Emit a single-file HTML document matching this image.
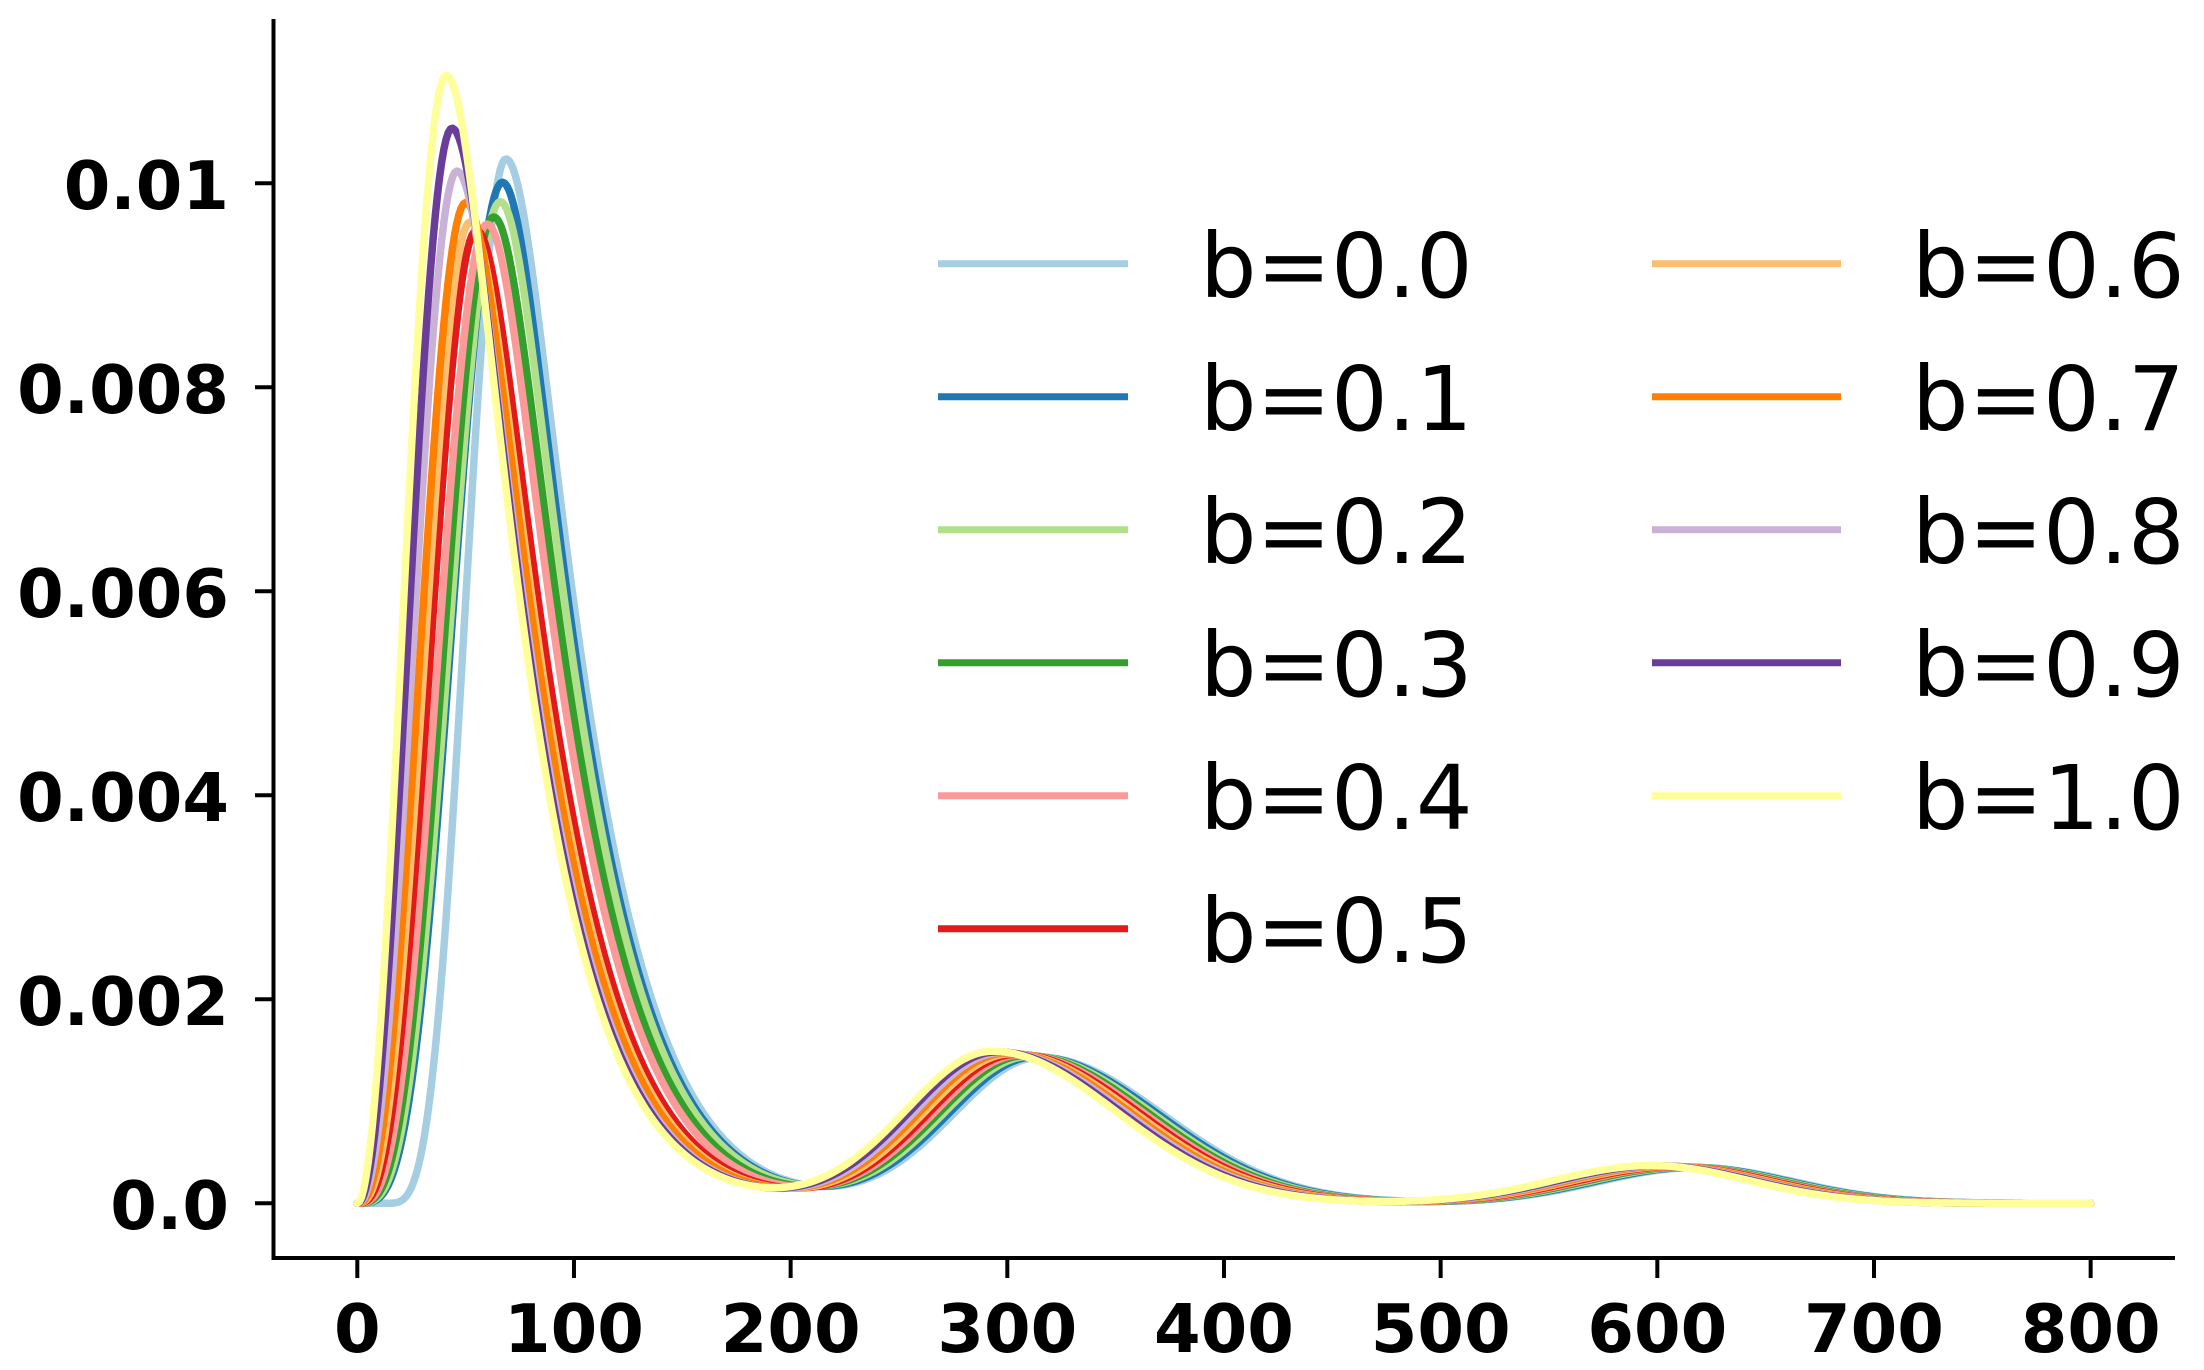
<!DOCTYPE html>
<html><head><meta charset="utf-8">
<style>
html,body{margin:0;padding:0;background:#fff;}
svg{display:block;}
.yt{font-family:"DejaVu Sans","Liberation Sans",sans-serif;font-weight:bold;font-size:67px;text-anchor:end;}
.xt{font-family:"DejaVu Sans","Liberation Sans",sans-serif;font-weight:bold;font-size:67px;text-anchor:middle;}
.lg{font-family:"DejaVu Sans","Liberation Sans",sans-serif;font-size:89px;}
</style></head>
<body>
<svg id="s" width="2204" height="1370" viewBox="0 0 2204 1370" xmlns="http://www.w3.org/2000/svg">
<g id="curves" fill="none" stroke-width="7.5" stroke-linejoin="round" stroke-linecap="round"></g>
<g stroke="#000" stroke-width="4" fill="none">
<line x1="273.5" y1="19" x2="273.5" y2="1260"/>
<line x1="271.5" y1="1258" x2="2175" y2="1258"/>
<line x1="255" y1="1203.3" x2="273" y2="1203.3"/>
<line x1="255" y1="999.3" x2="273" y2="999.3"/>
<line x1="255" y1="795.3" x2="273" y2="795.3"/>
<line x1="255" y1="591.3" x2="273" y2="591.3"/>
<line x1="255" y1="387.3" x2="273" y2="387.3"/>
<line x1="255" y1="183.3" x2="273" y2="183.3"/>
</g>
<g id="xticks" stroke="#000" stroke-width="4"></g>
<g>
<text class="yt" x="229" y="1229">0.0</text>
<text class="yt" x="229" y="1025">0.002</text>
<text class="yt" x="229" y="821">0.004</text>
<text class="yt" x="229" y="617">0.006</text>
<text class="yt" x="229" y="413">0.008</text>
<text class="yt" x="229" y="209">0.01</text>
</g>
<g id="xlabels"></g>
<g id="legend"></g>
</svg>
<script>
(function(){
var NS="http://www.w3.org/2000/svg";
function X(v){return 357.3+v*2.1667;}
function Y(v){return 1203.3-v*102000;}
var cols=["#a6cee3","#1f78b4","#b2df8a","#33a02c","#fb9a99","#e31a1c","#fdbf6f","#ff7f00","#cab2d6","#6a3d9a","#ffff99"];
var P=[68.6,67,66,63,60,55,52,50,46,43.7,41];
var H=[0.01024,0.01001,0.00982,0.00967,0.0096,0.00954,0.00962,0.00981,0.01012,0.01054,0.01106];
var g=document.getElementById("curves");
for(var i=0;i<11;i++){
  var b=i/10,p=P[i],A=H[i];
  var x0=(i==0)?13:0;
  var pw=2+1.8*(1-b);
  var C2=315-22*b,H2=0.00143+0.00006*b,C3=618-21*b,H3=0.00035+0.00002*b;
  var d="";
  for(var x=0;x<=800;x+=1){
    var f;
    if(x<x0)f=0;
    else if(x<=p){var t=(x-x0)/(p-x0);f=A*Math.pow(Math.sin(Math.PI/2*t),pw);}
    else{var dx=x-p;f=A*Math.exp(-(5.55e-5*dx*dx+0.026*(Math.sqrt(dx*dx+256)-16)));}
    var dx2=x-C2,s2=dx2<0?40:57;
    var sec=H2*Math.exp(-dx2*dx2/(2*s2*s2));
    var dx3=x-C3;
    var th=H3*Math.exp(-dx3*dx3/(2*45*45));
    var ramp=Math.min(1,Math.max(0,(x-x0)/60));
    f+= (sec+th)*ramp;
    d+=(x==0?"M":"L")+X(x).toFixed(2)+" "+Y(f).toFixed(2);
  }
  var pa=document.createElementNS(NS,"path");
  pa.setAttribute("d",d);pa.setAttribute("stroke",cols[i]);
  g.appendChild(pa);
}
var xt=document.getElementById("xticks"),xl=document.getElementById("xlabels");
for(var v=0;v<=800;v+=100){
  var l=document.createElementNS(NS,"line");
  l.setAttribute("x1",X(v));l.setAttribute("x2",X(v));l.setAttribute("y1",1258);l.setAttribute("y2",1278);
  xt.appendChild(l);
  var t=document.createElementNS(NS,"text");
  t.setAttribute("class","xt");t.setAttribute("x",X(v));t.setAttribute("y",1352);t.textContent=String(v);
  xl.appendChild(t);
}
var lg=document.getElementById("legend");
for(var i=0;i<11;i++){
  var col=i<6?0:1,row=i<6?i:i-6;
  var y=263.8+row*133;
  var lx1=col?1652:938,lx2=col?1841:1128,tx=col?1912:1200;
  var l=document.createElementNS(NS,"line");
  l.setAttribute("x1",lx1);l.setAttribute("x2",lx2);l.setAttribute("y1",y);l.setAttribute("y2",y);
  l.setAttribute("stroke",cols[i]);l.setAttribute("stroke-width","7");
  lg.appendChild(l);
  var t=document.createElementNS(NS,"text");
  t.setAttribute("class","lg");t.setAttribute("x",tx);t.setAttribute("y",y+33);
  t.textContent="b="+(i/10).toFixed(1);
  lg.appendChild(t);
}
})();
</script>
</body></html>
